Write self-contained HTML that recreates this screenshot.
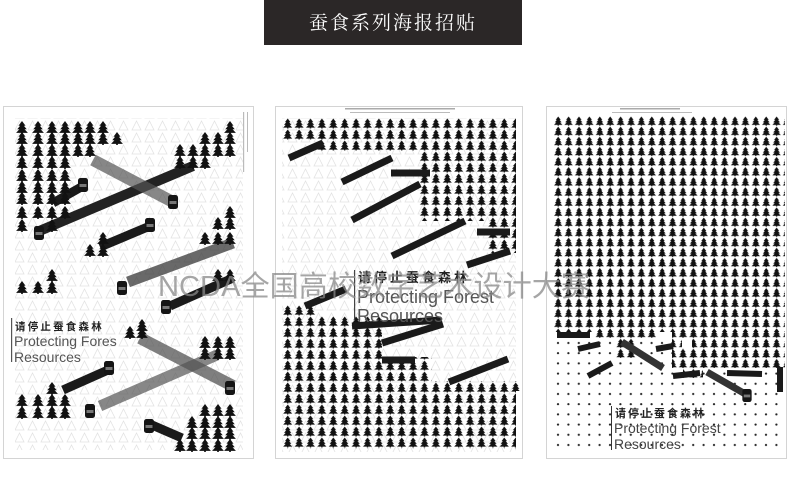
<!DOCTYPE html>
<html><head><meta charset="utf-8"><style>
html,body{margin:0;padding:0;background:#fff;}
svg{display:block}
</style></head><body>
<svg width="800" height="486" viewBox="0 0 800 486" xmlns="http://www.w3.org/2000/svg">
<defs>
<symbol id="t" viewBox="0 0 10 11"><path d="M5 0L8 4L6.6 4L9 7L7.2 7L10 10L5.7 10L5.7 11L4.3 11L4.3 10L0 10L2.8 7L1 7L3.4 4L2 4Z" fill="#111"/></symbol>
<pattern id="p2" x="282" y="118" width="11.4" height="11" patternUnits="userSpaceOnUse"><use href="#t" x="1" y="0.5" width="9.4" height="10"/></pattern>
<pattern id="p3" x="553" y="116" width="10.4" height="10.1" patternUnits="userSpaceOnUse"><use href="#t" x="0.8" y="0.5" width="8.8" height="9.3"/></pattern>
<pattern id="dots" x="553" y="338" width="10.4" height="10.2" patternUnits="userSpaceOnUse"><circle cx="5" cy="5" r="1.1" fill="#222"/></pattern>
<pattern id="tex" x="0" y="0" width="13" height="12" patternUnits="userSpaceOnUse"><path d="M6.5 1L11 10L2 10Z" fill="none" stroke="#e2e2e2" stroke-width="0.8"/></pattern>
<symbol id="can" viewBox="0 0 10 14"><rect x="0" y="0" width="10" height="14" rx="2.5" fill="#151515"/><rect x="1.5" y="6" width="7" height="3" fill="#777"/></symbol>
</defs>

<!-- title -->
<rect x="264" y="0" width="258" height="45" fill="#2b2727"/>
<text x="393" y="29" fill="#fff" font-size="19" text-anchor="middle" font-family="'Noto Serif CJK SC','Liberation Serif',serif" letter-spacing="2">蚕食系列海报招贴</text>

<!-- ============ POSTER 1 ============ -->
<rect x="3.5" y="106.5" width="250" height="352" fill="#fff" stroke="#d4d4d4"/>
<rect x="15" y="118" width="228" height="332" fill="url(#tex)"/>
<g fill="#bbb"><rect x="243" y="112" width="1.2" height="60"/><rect x="247" y="112" width="1" height="40"/></g>
<g>
<!-- bars -->
<g stroke-linecap="butt">
<line x1="37" y1="232" x2="193" y2="166" stroke="#222" stroke-width="10"/>
<line x1="93" y1="160" x2="173" y2="202" stroke="#555" stroke-width="12" opacity="0.7"/>
<line x1="53" y1="203" x2="83" y2="186" stroke="#1a1a1a" stroke-width="9"/>
<line x1="100" y1="247" x2="150" y2="226" stroke="#1a1a1a" stroke-width="9"/>
<line x1="128" y1="282" x2="233" y2="243" stroke="#444" stroke-width="11" opacity="0.8"/>
<line x1="170" y1="306" x2="233" y2="278" stroke="#1a1a1a" stroke-width="9"/>
<line x1="140" y1="338" x2="233" y2="386" stroke="#555" stroke-width="12" opacity="0.75"/>
<line x1="100" y1="406" x2="217" y2="355" stroke="#555" stroke-width="11" opacity="0.7"/>
<line x1="63" y1="390" x2="108" y2="370" stroke="#1a1a1a" stroke-width="9"/>
<line x1="152" y1="425" x2="182" y2="438" stroke="#1a1a1a" stroke-width="9"/>
</g>
<g>
<use href="#can" x="78" y="178" width="10" height="14"/>
<use href="#can" x="168" y="195" width="10" height="14"/>
<use href="#can" x="34" y="226" width="10" height="14"/>
<use href="#can" x="145" y="218" width="10" height="14"/>
<use href="#can" x="117" y="281" width="10" height="14"/>
<use href="#can" x="161" y="300" width="10" height="14"/>
<use href="#can" x="104" y="361" width="10" height="14"/>
<use href="#can" x="225" y="381" width="10" height="14"/>
<use href="#can" x="85" y="404" width="10" height="14"/>
<use href="#can" x="144" y="419" width="10" height="14"/>
</g>
<!-- trees -->
<g>
<use href="#t" x="16" y="121" width="12" height="13"/><use href="#t" x="32" y="121" width="12" height="13"/><use href="#t" x="46" y="121" width="12" height="13"/><use href="#t" x="59" y="121" width="12" height="13"/><use href="#t" x="72" y="121" width="12" height="13"/><use href="#t" x="84" y="121" width="12" height="13"/><use href="#t" x="97" y="121" width="12" height="13"/><use href="#t" x="224" y="121" width="12" height="13"/>
<use href="#t" x="16" y="132" width="12" height="13"/><use href="#t" x="32" y="132" width="12" height="13"/><use href="#t" x="46" y="132" width="12" height="13"/><use href="#t" x="59" y="132" width="12" height="13"/><use href="#t" x="72" y="132" width="12" height="13"/><use href="#t" x="84" y="132" width="12" height="13"/><use href="#t" x="97" y="132" width="12" height="13"/><use href="#t" x="111" y="132" width="12" height="13"/><use href="#t" x="199" y="132" width="12" height="13"/><use href="#t" x="212" y="132" width="12" height="13"/><use href="#t" x="224" y="132" width="12" height="13"/>
<use href="#t" x="16" y="144" width="12" height="13"/><use href="#t" x="32" y="144" width="12" height="13"/><use href="#t" x="46" y="144" width="12" height="13"/><use href="#t" x="59" y="144" width="12" height="13"/><use href="#t" x="72" y="144" width="12" height="13"/><use href="#t" x="84" y="144" width="12" height="13"/><use href="#t" x="174" y="144" width="12" height="13"/><use href="#t" x="187" y="144" width="12" height="13"/><use href="#t" x="199" y="144" width="12" height="13"/><use href="#t" x="212" y="144" width="12" height="13"/><use href="#t" x="224" y="144" width="12" height="13"/>
<use href="#t" x="16" y="156" width="12" height="13"/><use href="#t" x="32" y="156" width="12" height="13"/><use href="#t" x="46" y="156" width="12" height="13"/><use href="#t" x="59" y="156" width="12" height="13"/><use href="#t" x="174" y="156" width="12" height="13"/><use href="#t" x="187" y="156" width="12" height="13"/><use href="#t" x="199" y="156" width="12" height="13"/>
<use href="#t" x="16" y="169" width="12" height="13"/><use href="#t" x="32" y="169" width="12" height="13"/><use href="#t" x="46" y="169" width="12" height="13"/><use href="#t" x="59" y="169" width="12" height="13"/>
<use href="#t" x="16" y="181" width="12" height="13"/><use href="#t" x="32" y="181" width="12" height="13"/><use href="#t" x="46" y="181" width="12" height="13"/><use href="#t" x="59" y="181" width="12" height="13"/>
<use href="#t" x="16" y="192" width="12" height="13"/><use href="#t" x="32" y="192" width="12" height="13"/><use href="#t" x="46" y="192" width="12" height="13"/><use href="#t" x="59" y="192" width="12" height="13"/>
<use href="#t" x="16" y="206" width="12" height="13"/><use href="#t" x="32" y="206" width="12" height="13"/><use href="#t" x="46" y="206" width="12" height="13"/><use href="#t" x="59" y="206" width="12" height="13"/>
<use href="#t" x="16" y="219" width="12" height="13"/><use href="#t" x="46" y="219" width="12" height="13"/>
<use href="#t" x="224" y="206" width="12" height="13"/><use href="#t" x="212" y="217" width="12" height="13"/><use href="#t" x="224" y="217" width="12" height="13"/><use href="#t" x="199" y="232" width="12" height="13"/><use href="#t" x="212" y="232" width="12" height="13"/><use href="#t" x="224" y="232" width="12" height="13"/>
<use href="#t" x="97" y="232" width="12" height="13"/><use href="#t" x="84" y="244" width="12" height="13"/><use href="#t" x="97" y="244" width="12" height="13"/>
<use href="#t" x="46" y="269" width="12" height="13"/><use href="#t" x="16" y="281" width="12" height="13"/><use href="#t" x="32" y="281" width="12" height="13"/><use href="#t" x="46" y="281" width="12" height="13"/>
<use href="#t" x="212" y="269" width="12" height="13"/><use href="#t" x="224" y="269" width="12" height="13"/>
<use href="#t" x="136" y="319" width="12" height="13"/><use href="#t" x="124" y="326" width="12" height="13"/><use href="#t" x="136" y="326" width="12" height="13"/>
<use href="#t" x="199" y="336" width="12" height="13"/><use href="#t" x="212" y="336" width="12" height="13"/><use href="#t" x="224" y="336" width="12" height="13"/>
<use href="#t" x="199" y="347" width="12" height="13"/><use href="#t" x="212" y="347" width="12" height="13"/><use href="#t" x="224" y="347" width="12" height="13"/>
<use href="#t" x="46" y="382" width="12" height="13"/>
<use href="#t" x="16" y="394" width="12" height="13"/><use href="#t" x="32" y="394" width="12" height="13"/><use href="#t" x="46" y="394" width="12" height="13"/><use href="#t" x="59" y="394" width="12" height="13"/>
<use href="#t" x="16" y="406" width="12" height="13"/><use href="#t" x="32" y="406" width="12" height="13"/><use href="#t" x="46" y="406" width="12" height="13"/><use href="#t" x="59" y="406" width="12" height="13"/>
<use href="#t" x="199" y="404" width="12" height="13"/><use href="#t" x="212" y="404" width="12" height="13"/><use href="#t" x="224" y="404" width="12" height="13"/>
<use href="#t" x="186" y="416" width="12" height="13"/><use href="#t" x="199" y="416" width="12" height="13"/><use href="#t" x="212" y="416" width="12" height="13"/><use href="#t" x="224" y="416" width="12" height="13"/>
<use href="#t" x="186" y="427" width="12" height="13"/><use href="#t" x="199" y="427" width="12" height="13"/><use href="#t" x="212" y="427" width="12" height="13"/><use href="#t" x="224" y="427" width="12" height="13"/>
<use href="#t" x="174" y="439" width="12" height="13"/><use href="#t" x="186" y="439" width="12" height="13"/><use href="#t" x="199" y="439" width="12" height="13"/><use href="#t" x="212" y="439" width="12" height="13"/><use href="#t" x="224" y="439" width="12" height="13"/>
</g>
<rect x="11" y="318" width="1.2" height="44" fill="#555"/>
<text x="15" y="330" font-size="10.5" font-weight="bold" fill="#222" letter-spacing="2.2" font-family="'Liberation Sans','Noto Sans CJK SC',sans-serif">请停止蚕食森林</text>
<text x="14" y="346" font-size="14" fill="#555" font-family="'Liberation Sans',sans-serif">Protecting Fores</text>
<text x="14" y="362" font-size="14" fill="#555" font-family="'Liberation Sans',sans-serif">Resources</text>
</g>

<!-- ============ POSTER 2 ============ -->
<rect x="275.5" y="106.5" width="247" height="352" fill="#fff" stroke="#d4d4d4"/>
<rect x="282" y="118" width="234" height="334" fill="url(#tex)"/>
<rect x="345" y="108" width="110" height="1.5" fill="#aaa"/><rect x="350" y="112" width="100" height="1" fill="#bbb"/>
<g fill="url(#p2)">
<rect x="282" y="118" width="234" height="22"/>
<rect x="316" y="140" width="200" height="11"/>
<rect x="418" y="151" width="98" height="70"/>
<rect x="487" y="221" width="29" height="32"/>
<rect x="282" y="305" width="35" height="11"/>
<rect x="282" y="316" width="100" height="41"/>
<rect x="282" y="357" width="150" height="24"/>
<rect x="282" y="381" width="240" height="10"/>
<rect x="282" y="391" width="234" height="58"/>
</g>
<g stroke="#1a1a1a" stroke-width="7">
<line x1="289" y1="158" x2="323" y2="143"/>
<line x1="342" y1="182" x2="392" y2="158"/>
<line x1="391" y1="173" x2="430" y2="173"/>
<line x1="352" y1="220" x2="420" y2="184"/>
<line x1="392" y1="256" x2="465" y2="221"/>
<line x1="477" y1="232" x2="510" y2="232"/>
<line x1="467" y1="265" x2="510" y2="251"/>
<line x1="305" y1="306" x2="346" y2="289"/>
<line x1="352" y1="326" x2="441" y2="320"/>
<line x1="382" y1="343" x2="443" y2="324"/>
<line x1="382" y1="360" x2="415" y2="360"/>
<line x1="449" y1="382" x2="508" y2="359"/>
</g>
<rect x="354" y="270" width="1.2" height="50" fill="#444"/>
<text x="358" y="282" font-size="13" font-weight="bold" fill="#222" letter-spacing="3" font-family="'Liberation Sans','Noto Sans CJK SC',sans-serif">请停止蚕食森林</text>
<text x="357" y="303" font-size="18" fill="#555" font-family="'Liberation Sans',sans-serif">Protecting Forest</text>
<text x="357" y="322" font-size="18" fill="#555" font-family="'Liberation Sans',sans-serif">Resources</text>

<!-- ============ POSTER 3 ============ -->
<rect x="546.5" y="106.5" width="240" height="352" fill="#fff" stroke="#d4d4d4"/>
<rect x="620" y="108" width="60" height="1.5" fill="#aaa"/><rect x="612" y="112" width="80" height="1" fill="#bbb"/>
<rect x="553" y="116" width="232" height="216" fill="url(#p3)"/>
<rect x="553" y="338" width="232" height="114" fill="url(#dots)"/>
<g fill="url(#p3)">
<rect x="594" y="328" width="62" height="10"/>
<rect x="672" y="328" width="113" height="10"/>
<rect x="615" y="338" width="21" height="20"/>
<rect x="672" y="338" width="113" height="30"/>
<rect x="683" y="368" width="20" height="10"/>
</g>
<rect x="682" y="338" width="10" height="10" fill="#fff"/>
<g stroke="#1a1a1a" stroke-width="6">
<line x1="557" y1="335" x2="590" y2="335"/>
<line x1="578" y1="349" x2="600" y2="344"/>
<line x1="588" y1="376" x2="612" y2="363"/>
<line x1="622" y1="342" x2="663" y2="368" stroke="#333" stroke-width="7"/>
<line x1="656" y1="349" x2="673" y2="346"/>
<line x1="673" y1="376" x2="700" y2="373"/>
<line x1="707" y1="372" x2="747" y2="395" stroke="#333" stroke-width="7"/>
<line x1="727" y1="373" x2="762" y2="374"/>
<line x1="780" y1="367" x2="780" y2="392"/>
</g>
<use href="#can" x="742" y="389" width="10" height="13"/>
<rect x="611" y="406" width="1" height="44" fill="#333"/>
<text x="615" y="417" font-size="11" font-weight="bold" fill="#222" letter-spacing="2" font-family="'Liberation Sans','Noto Sans CJK SC',sans-serif">请停止蚕食森林</text>
<text x="614" y="433" font-size="14" fill="#444" font-family="'Liberation Sans',sans-serif">Protecting Forest</text>
<text x="614" y="449" font-size="14" fill="#444" font-family="'Liberation Sans',sans-serif">Resources</text>

<!-- watermark -->
<text x="158" y="296" font-size="29" fill="#888" fill-opacity="0.75" textLength="432" lengthAdjust="spacingAndGlyphs" font-family="'Liberation Sans','Noto Sans CJK SC',sans-serif">NCDA全国高校数字艺术设计大赛</text>
</svg>
</body></html>
